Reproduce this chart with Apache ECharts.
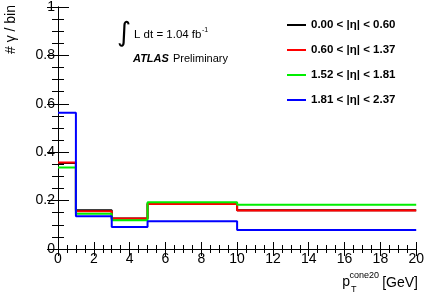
<!DOCTYPE html>
<html><head><meta charset="utf-8">
<script src="https://cdn.jsdelivr.net/npm/echarts@6/dist/echarts.min.js"></script>
<style>html,body{margin:0;padding:0;background:#fff}#c{width:427px;height:296px}</style>
</head><body><div id="c"></div>
<script>
var binEdges = [0, 1, 3, 5, 10, 20];
var seriesNames = ['0.00 < |η| < 0.60', '0.60 < |η| < 1.37', '1.52 < |η| < 1.81', '1.81 < |η| < 2.37'];
var seriesColors = ['#000000', '#ff0000', '#00ee00', '#0000ff'];
var vals0 = [0.355, 0.160, 0.126, 0.188, 0.160];
var vals1 = [0.357, 0.156, 0.126, 0.186, 0.159];
var vals2 = [0.337, 0.146, 0.119, 0.193, 0.183];
var vals3 = [0.563, 0.135, 0.091, 0.115, 0.078];
var yTicks = [0, 0.2, 0.4, 0.6, 0.8, 1];
var xTicks = [0, 2, 4, 6, 8, 10, 12, 14, 16, 18, 20];

var allVals = [vals0, vals1, vals2, vals3];
function stepData(v) {
  var d = [];
  for (var i = 0; i < v.length; i++) d.push([binEdges[i], v[i]]);
  d.push([binEdges[binEdges.length - 1], v[v.length - 1]]);
  return d;
}
var FONT = '"Liberation Sans", Arial, sans-serif';
var chart = echarts.init(document.getElementById('c'), null, {renderer: 'canvas'});
var axisCommon = {
  axisLine: {show: true, lineStyle: {color: '#000', width: 1}},
  splitLine: {show: false}
};
var series = allVals.map(function (v, i) {
  return {
    name: seriesNames[i], type: 'line', step: 'end', data: stepData(v),
    showSymbol: false, symbol: 'none', xAxisIndex: 0, yAxisIndex: 0,
    lineStyle: {color: seriesColors[i], width: 2}, itemStyle: {color: seriesColors[i]},
    animation: false, z: 2 + i
  };
});
chart.setOption({
  animation: false,
  grid: {left: 58, top: 5, right: 9, bottom: 47, containLabel: false},
  legend: {
    orient: 'vertical', left: 287, top: 19, itemGap: 13, padding: 0,
    itemWidth: 19, itemHeight: 2, icon: 'rect',
    textStyle: {fontFamily: FONT, fontWeight: 'bold', fontSize: 11.5, color: '#000'},
    data: seriesNames
  },
  xAxis: [
    Object.assign({type: 'value', min: xTicks[0], max: xTicks[xTicks.length - 1], interval: 2, position: 'bottom',
      axisTick: {show: true, inside: true, length: 7, lineStyle: {color: '#000'}},
      minorTick: {show: true, splitNumber: 4, length: 4, lineStyle: {color: '#000'}},
      axisLabel: {fontFamily: FONT, fontSize: 14, color: '#000', margin: 3}}, axisCommon),
    Object.assign({type: 'value', min: xTicks[0], max: xTicks[xTicks.length - 1], interval: 2, position: 'top',
      axisTick: {show: true, inside: true, length: 7, lineStyle: {color: '#000'}},
      minorTick: {show: true, splitNumber: 4, length: 4, lineStyle: {color: '#000'}},
      axisLabel: {show: false}}, axisCommon)
  ],
  yAxis: [
    Object.assign({type: 'value', min: yTicks[0], max: yTicks[yTicks.length - 1], interval: 0.2, position: 'left',
      axisTick: {show: true, inside: true, length: 11, lineStyle: {color: '#000'}},
      minorTick: {show: true, splitNumber: 4, length: 6, lineStyle: {color: '#000'}},
      axisLabel: {fontFamily: FONT, fontSize: 14, color: '#000', margin: 3}}, axisCommon),
    Object.assign({type: 'value', min: yTicks[0], max: yTicks[yTicks.length - 1], interval: 0.2, position: 'right',
      axisTick: {show: true, inside: true, length: 11, lineStyle: {color: '#000'}},
      minorTick: {show: true, splitNumber: 4, length: 6, lineStyle: {color: '#000'}},
      axisLabel: {show: false}}, axisCommon)
  ],
  graphic: [
    {type: 'text', x: 11, y: 5, rotation: Math.PI / 2,
      style: {text: '# γ / bin', fontFamily: FONT, fontSize: 14, fill: '#000', textAlign: 'right', textVerticalAlign: 'middle'}},
    {type: 'text', x: 418, y: 283, style: {text: '[GeV]', fontFamily: FONT, fontSize: 14, fill: '#000', textAlign: 'right', textVerticalAlign: 'middle'}},
    {type: 'text', x: 379, y: 276, style: {text: 'cone20', fontFamily: FONT, fontSize: 9, fill: '#000', textAlign: 'right', textVerticalAlign: 'middle'}},
    {type: 'text', x: 351, y: 290, style: {text: 'T', fontFamily: FONT, fontSize: 9, fill: '#000', textAlign: 'left', textVerticalAlign: 'middle'}},
    {type: 'text', x: 350, y: 282, style: {text: 'p', fontFamily: FONT, fontSize: 14, fill: '#000', textAlign: 'right', textVerticalAlign: 'middle'}},
    {type: 'text', x: 131, y: 34, style: {text: '∫', fontFamily: '"DejaVu Sans", sans-serif', fontSize: 27, fill: '#000', textAlign: 'right', textVerticalAlign: 'middle'}},
    {type: 'text', x: 134, y: 35, style: {text: 'L dt = 1.04 fb', fontFamily: FONT, fontSize: 11.5, fill: '#000', textAlign: 'left', textVerticalAlign: 'middle'}},
    {type: 'text', x: 202, y: 30, style: {text: '-1', fontFamily: FONT, fontSize: 7, fill: '#000', textAlign: 'left', textVerticalAlign: 'middle'}},
    {type: 'text', x: 133, y: 59, style: {text: 'ATLAS', fontFamily: FONT, fontSize: 11, fontWeight: 'bold', fontStyle: 'italic', fill: '#000', textAlign: 'left', textVerticalAlign: 'middle'}},
    {type: 'text', x: 173, y: 59, style: {text: 'Preliminary', fontFamily: FONT, fontSize: 11, fill: '#000', textAlign: 'left', textVerticalAlign: 'middle'}}
  ],
  series: series
});
</script></body></html>
